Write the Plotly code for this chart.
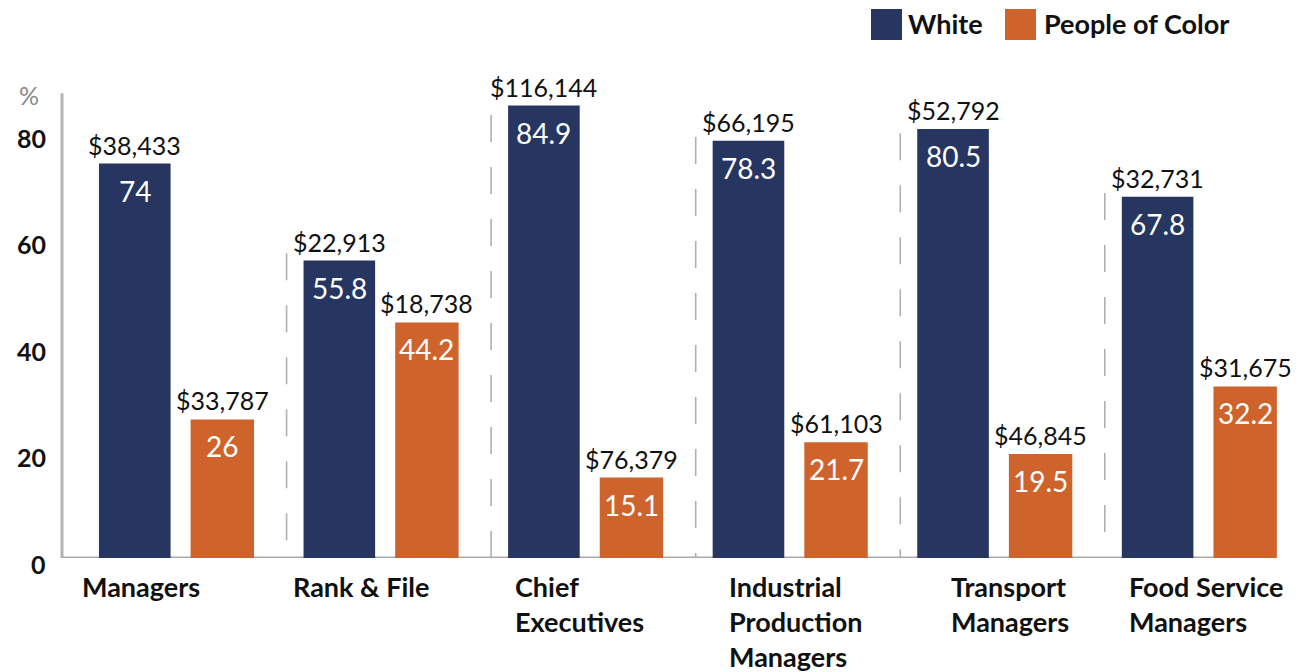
import plotly.graph_objects as go

# ---------------- data ----------------
CATEGORIES = ["Managers", "Rank & File", "Chief Executives",
              "Industrial Production Managers", "Transport Managers",
              "Food Service Managers"]
CATEGORY_LABELS = ["Managers", "Rank & File", "Chief<br>Executives",
                   "Industrial<br>Production<br>Managers",
                   "Transport<br>Managers", "Food Service<br>Managers"]
SERIES = ["White", "People of Color"]
WHITE_PCT = [74, 55.8, 84.9, 78.3, 80.5, 67.8]
POC_PCT = [26, 44.2, 15.1, 21.7, 19.5, 32.2]
WHITE_PAY = ["$38,433", "$22,913", "$116,144", "$66,195", "$52,792", "$32,731"]
POC_PAY = ["$33,787", "$18,738", "$76,379", "$61,103", "$46,845", "$31,675"]
Y_TICKS = [0, 20, 40, 60, 80]
Y_TICK_TEXT = ["0", "20", "40", "60", "80"]

# ---------------- style ----------------
NAVY = "#263660"
ORANGE = "#cf632c"
AXIS_GRAY = "#a9a9ad"
SEP_GRAY = "#b0b0b0"
FONT = "Lato"

W = 1304
H = 672
M_L, M_R, M_T, M_B = 62, 10, 89, 114
X_RANGE = [-0.5627, 5.4597]
Y_RANGE = [0, 88]

NAVY_OFF, NAVY_W = -0.382, 0.35
ORANGE_OFF, ORANGE_W = 0.066, 0.31
LABEL_XSHIFT = [-97, -91, -73, -64, -46, -73]
SEP_TOPS = [57.2, 83.1, 79.0, 79.7, 68.5]
SEP_POS = 0.535
AXIS_END = 5.17
YAXIS_TOP = 87.2

PLOT_W = W - M_L - M_R
PLOT_H = H - M_T - M_B


def px_x(p):
    return (p - M_L) / PLOT_W


def px_y(p):
    return (H - M_B - p) / PLOT_H


fig = go.Figure()
fig.add_trace(go.Bar(x=CATEGORIES, y=WHITE_PCT, name=SERIES[0],
                     marker=dict(color=NAVY, line=dict(width=0)),
                     offset=NAVY_OFF, width=NAVY_W, showlegend=False,
                     hoverinfo="x+y"))
fig.add_trace(go.Bar(x=CATEGORIES, y=POC_PCT, name=SERIES[1],
                     marker=dict(color=ORANGE, line=dict(width=0)),
                     offset=ORANGE_OFF, width=ORANGE_W, showlegend=False,
                     hoverinfo="x+y"))

ann = []
shapes = []
for i, cat in enumerate(CATEGORIES):
    for vals, pays, off, w in ((WHITE_PCT, WHITE_PAY, NAVY_OFF, NAVY_W),
                               (POC_PCT, POC_PAY, ORANGE_OFF, ORANGE_W)):
        xc = i + off + w / 2
        ann.append(dict(x=xc, y=vals[i], xref="x", yref="y", text=pays[i],
                        showarrow=False, yanchor="bottom", yshift=2,
                        font=dict(family=FONT, size=25, color="#111111")))
        ann.append(dict(x=xc, y=vals[i], xref="x", yref="y",
                        text=f"{vals[i]:g}", showarrow=False,
                        yanchor="top", yshift=-8,
                        font=dict(family=FONT, size=28, color="white")))
    ann.append(dict(x=i, y=0, xref="x", yref="y", text=f"<b>{CATEGORY_LABELS[i]}</b>",
                    showarrow=False, xanchor="left", yanchor="top",
                    xshift=LABEL_XSHIFT[i], yshift=-10, align="left",
                    font=dict(family=FONT, size=27, color="#111111")))

# y tick labels
for v, t in zip(Y_TICKS, Y_TICK_TEXT):
    ann.append(dict(x=0, y=v, xref="paper", yref="y", text=f"<b>{t}</b>",
                    showarrow=False, xanchor="right", yanchor="middle",
                    xshift=-14, yshift=-6,
                    font=dict(family=FONT, size=25, color="#111111")))
ann.append(dict(x=px_x(29), y=px_y(95), xref="paper", yref="paper", text="%",
                showarrow=False, xanchor="center", yanchor="middle",
                font=dict(family=FONT, size=25, color="#8a8a8a")))

# separators
for k, top in enumerate(SEP_TOPS):
    shapes.append(dict(type="line", xref="x", yref="y", x0=k + SEP_POS, x1=k + SEP_POS,
                       y0=top, y1=-0.8, layer="below",
                       line=dict(color=SEP_GRAY, width=1.6, dash="27px,25px")))

# axis lines
shapes.append(dict(type="line", xref="x", yref="y", x0=X_RANGE[0], x1=AXIS_END,
                   y0=0, y1=0, layer="below", line=dict(color=AXIS_GRAY, width=3)))
shapes.append(dict(type="line", xref="paper", yref="y", x0=0, x1=0,
                   y0=0, y1=YAXIS_TOP, layer="below", line=dict(color="#b4b4b8", width=3)))

# legend
for (x0p, color, label, tx) in ((871, NAVY, SERIES[0], 906), (1005, ORANGE, SERIES[1], 1042)):
    shapes.append(dict(type="rect", xref="paper", yref="paper",
                       x0=px_x(x0p), x1=px_x(x0p + 31), y0=px_y(40), y1=px_y(9),
                       fillcolor=color, line=dict(width=0)))
    ann.append(dict(x=px_x(tx), y=px_y(24), xref="paper", yref="paper",
                    text=f"<b>{label}</b>", showarrow=False, xanchor="left",
                    yanchor="middle",
                    font=dict(family=FONT, size=27, color="#111111")))

fig.update_layout(
    width=W, height=H,
    margin=dict(l=M_L, r=M_R, t=M_T, b=M_B),
    paper_bgcolor="white", plot_bgcolor="white",
    barmode="overlay",
    xaxis=dict(type="category", range=X_RANGE, showticklabels=False,
               showgrid=False, zeroline=False, showline=False, ticks=""),
    yaxis=dict(range=Y_RANGE, showticklabels=False, showgrid=False,
               zeroline=False, showline=False, ticks="", tickvals=Y_TICKS),
    annotations=ann, shapes=shapes,
    font=dict(family=FONT),
)

fig.write_html("out.html", config={"displayModeBar": False},
               post_script="document.body.style.margin='0';")
